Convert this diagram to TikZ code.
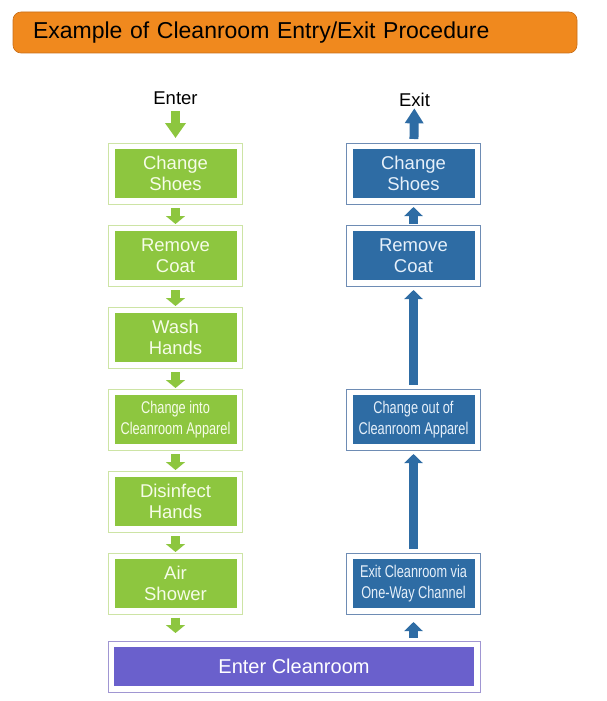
\documentclass[tikz,border=0pt]{standalone}
\usepackage{fontspec}
\setmainfont{Liberation Sans}
\newfontfamily\narrowfont[FakeStretch=0.75]{Liberation Sans}
\usetikzlibrary{arrows.meta,positioning}

\definecolor{titleorange}{RGB}{240,137,30}
\definecolor{titleedge}{RGB}{200,110,25}
\definecolor{gfill}{RGB}{141,198,63}
\definecolor{gframe}{RGB}{205,228,165}
\definecolor{gtext}{RGB}{246,252,232}
\definecolor{bfill}{RGB}{46,108,164}
\definecolor{bframe}{RGB}{110,140,180}
\definecolor{btext}{RGB}{230,240,250}
\definecolor{pfill}{RGB}{106,96,204}
\definecolor{pframe}{RGB}{160,150,210}

\tikzset{
  gbox/.style={rectangle, draw=gframe, line width=1pt, fill=white, outer sep=0pt,
    minimum width=134pt, minimum height=61pt, text=gtext, align=center,
    font=\fontsize{18.5}{21}\selectfont,
    path picture={\fill[gfill] ([shift={(6pt,-6pt)}]path picture bounding box.north west)
      rectangle ([shift={(-6pt,6pt)}]path picture bounding box.south east);}},
  bbox/.style={gbox, draw=bframe, text=btext,
    path picture={\fill[bfill] ([shift={(6pt,-6pt)}]path picture bounding box.north west)
      rectangle ([shift={(-6pt,6pt)}]path picture bounding box.south east);}},
  narrow/.style={font=\narrowfont\fontsize{17}{21.5}\selectfont},
  lbl/.style={inner sep=0pt, font=\fontsize{18.5}{21}\selectfont},
  garrow/.style={draw=gfill, line width=9pt, -{Triangle[width=19pt,length=8pt]}},
  barrow/.style={draw=bfill, line width=9pt, -{Triangle[width=18pt,length=9pt]}},
}

\begin{document}
\begin{tikzpicture}[x=1pt,y=-1pt]
\useasboundingbox (0,0) rectangle (607,701);

% title bar
\node[rectangle, rounded corners=8pt, fill=titleorange, draw=titleedge, line width=0.6pt,
  minimum width=564pt, minimum height=41pt, text width=524pt, inner xsep=20pt,
  align=left, font=\fontsize{23}{25}\selectfont] (title) at (295,32.5)
  {Example of Cleanroom Entry/Exit Procedure};

% entry column
\node[gbox] (shoes) at (175.5,173.5) {Change\\Shoes};
\node[gbox, below=21pt of shoes] (coat) {Remove\\Coat};
\node[gbox, below=21pt of coat] (wash) {Wash\\Hands};
\node[gbox, below=21pt of wash, narrow] (into) {Change into\\Cleanroom Apparel};
\node[gbox, below=21pt of into] (disinfect) {Disinfect\\Hands};
\node[gbox, below=21pt of disinfect] (air) {Air\\Shower};

% exit column
\node[bbox, right=104pt of shoes] (bshoes) {Change\\Shoes};
\node[bbox, below=21pt of bshoes] (bcoat) {Remove\\Coat};
\node[bbox, below=103pt of bcoat, narrow] (outof) {Change out of\\Cleanroom Apparel};
\node[bbox, below=103pt of outof, narrow] (via) {Exit Cleanroom via\\One-Way Channel};

% cleanroom
\node[rectangle, draw=pframe, line width=1pt, fill=white, outer sep=0pt,
  minimum width=372pt, minimum height=51pt, text=white,
  font=\fontsize{20}{22}\selectfont,
  path picture={\fill[pfill] ([shift={(6pt,-6pt)}]path picture bounding box.north west)
    rectangle ([shift={(-6pt,6pt)}]path picture bounding box.south east);}]
  (clean) at (294,666.5) {Enter Cleanroom};

% labels
\node[lbl, anchor=base] (enter) at (175.5,104) {Enter};
\node[lbl, anchor=base] (exit) at (414.5,106) {Exit};

% entry arrows
\draw[garrow, -{Triangle[width=20pt,length=15pt]}, shorten <=7pt, shorten >=5pt] (enter) -- (shoes);
\foreach \a/\b in {shoes/coat, coat/wash, wash/into, into/disinfect, disinfect/air}
  \draw[garrow, shorten <=4pt, shorten >=1pt] (\a) -- (\b);
\draw[garrow, shorten <=3.5pt, shorten >=8pt] (air.south) -- (air.south |- clean.north);

% exit arrows
\draw[barrow, shorten <=3pt, shorten >=8pt] (via.south |- clean.north) -- (via.south);
\draw[barrow, shorten <=4pt, shorten >=4pt] (via) -- (outof);
\draw[barrow, shorten <=4pt, shorten >=4pt] (outof) -- (bcoat);
\draw[barrow, shorten <=1pt, shorten >=3pt] (bcoat) -- (bshoes);
\draw[barrow, -{Triangle[width=18pt,length=15pt]}, shorten <=4pt, shorten >=2pt] (bshoes) -- (exit);
\end{tikzpicture}
\end{document}
